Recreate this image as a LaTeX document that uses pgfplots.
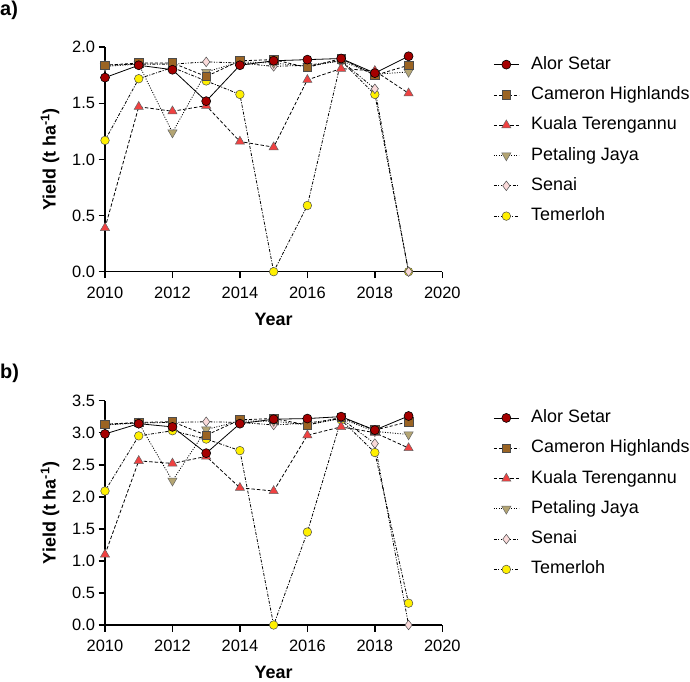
\documentclass[border=0pt]{standalone}
\usepackage{fontspec}
\setmainfont{Liberation Sans}
\usepackage{pgfplots}
\pgfplotsset{compat=1.18}
\definecolor{alor}{RGB}{165,0,0}
\definecolor{cam}{RGB}{155,100,35}
\definecolor{kuala}{RGB}{240,65,65}
\definecolor{pet}{RGB}{180,165,115}
\definecolor{senai}{RGB}{250,218,218}
\definecolor{tem}{RGB}{255,240,0}
\pgfplotsset{
  panel/.style={
    scale only axis, width=337.3bp, height=224.4bp,
    axis lines*=left,
    axis line style={line width=1.6bp},
    tick style={black, line width=1.6bp},
    major tick length=6.5bp,
    tick align=outside,
    clip=false,
    xmin=2010, xmax=2020, xtick={2010,2012,...,2020},
    ymin=0,
    /pgf/number format/assume math mode=true,
    xticklabel style={/pgf/number format/1000 sep={}, yshift=-5bp},
    yticklabel style={/pgf/number format/fixed, /pgf/number format/fixed zerofill, /pgf/number format/precision=1},
    ticklabel style={font=\fontsize{16.5}{19}\selectfont},
    xlabel={Year},
    ylabel={Yield (t ha\textsuperscript{-1})},
    label style={font=\fontsize{18}{21}\selectfont\bfseries},
    xlabel style={at={(axis description cs:0.5,-0.212)}, anchor=center},
    ylabel style={at={(axis description cs:-0.163,0.5)}, anchor=center},
    reverse legend,
    legend cell align=left,
    legend style={draw=none, fill=none, inner sep=0pt, at={(axis description cs:1.151,0.966)}, anchor=north west,
      font=\fontsize{18}{21}\selectfont,
      nodes={inner sep=1bp, text height=13bp, text depth=4bp},
      row sep=11.3bp, column sep=11bp},
    legend image code/.code={\draw[mark repeat=2,mark phase=2,#1] plot coordinates {(0bp,0bp) (12.5bp,0bp) (25bp,0bp)};},
    every axis plot/.append style={line width=0.8bp, black},
  },
  sAlor/.style={solid, mark=*, mark size=4.5bp, mark options={solid, fill=alor, draw=black, line width=0.6bp}},
  sCam/.style={dash pattern=on 3bp off 2bp, mark=square*, mark size=4.3bp, mark options={solid, fill=cam, draw=black!70, line width=0.6bp}},
  sKua/.style={dash pattern=on 3.5bp off 2bp, mark=triangle*, mark size=5.3bp, mark options={solid, fill=kuala, draw=black!60, line width=0.5bp}},
  sPet/.style={dash pattern=on 1bp off 1.5bp, mark=triangle*, mark size=5.3bp, mark options={solid, rotate=180, fill=pet, draw=black!60, line width=0.5bp}},
  sSen/.style={dash pattern=on 3bp off 1.5bp on 1bp off 1.5bp on 1bp off 1.5bp, mark=diamond*, mark size=4.8bp, mark options={solid, fill=senai, draw=black!70, line width=0.5bp}},
  sTem/.style={dash pattern=on 3bp off 1.5bp on 1bp off 1.5bp, mark=*, mark size=4.3bp, mark options={solid, fill=tem, draw=black!70, line width=0.5bp}},
}
\begin{document}
\begin{tikzpicture}
\path[use as bounding box] (0,0) rectangle (690bp,682bp);
\node[anchor=north west, inner sep=0pt, font=\fontsize{20}{24}\selectfont\bfseries] at (0bp,681bp) {a)};
\node[anchor=north west, inner sep=0pt, font=\fontsize{20}{24}\selectfont\bfseries] at (0bp,318bp) {b)};
% Panel a
\begin{axis}[panel, at={(105bp,410.3bp)}, anchor=origin, ymax=2.0, ytick={0,0.5,...,2.0}]
\addplot[sTem] coordinates {(2010,1.17) (2011,1.72) (2012,1.82) (2013,1.70) (2014,1.58) (2015,0.00) (2016,0.59) (2017,1.88) (2018,1.58) (2019,0.00)};
\addlegendentry{Temerloh}
\addplot[sSen] coordinates {(2010,1.84) (2011,1.85) (2012,1.85) (2013,1.87) (2014,1.86) (2015,1.83) (2016,1.84) (2017,1.88) (2018,1.63) (2019,0.00)};
\addlegendentry{Senai}
\addplot[sPet] coordinates {(2010,1.83) (2011,1.85) (2012,1.24) (2013,1.78) (2014,1.87) (2015,1.86) (2016,1.83) (2017,1.88) (2018,1.76) (2019,1.78)};
\addlegendentry{Petaling Jaya}
\addplot[sKua] coordinates {(2010,0.39) (2011,1.47) (2012,1.43) (2013,1.48) (2014,1.16) (2015,1.11) (2016,1.71) (2017,1.81) (2018,1.79) (2019,1.59)};
\addlegendentry{Kuala Terengannu}
\addplot[sCam] coordinates {(2010,1.84) (2011,1.86) (2012,1.86) (2013,1.74) (2014,1.88) (2015,1.89) (2016,1.82) (2017,1.90) (2018,1.75) (2019,1.84)};
\addlegendentry{Cameron Highlands}
\addplot[sAlor] coordinates {(2010,1.73) (2011,1.84) (2012,1.80) (2013,1.52) (2014,1.84) (2015,1.88) (2016,1.89) (2017,1.90) (2018,1.77) (2019,1.92)};
\addlegendentry{Alor Setar}
\end{axis}
% Panel b
\begin{axis}[panel, at={(105bp,57bp)}, anchor=origin, ymax=3.5, ytick={0,0.5,...,3.5}]
\addplot[sTem] coordinates {(2010,2.09) (2011,2.95) (2012,3.03) (2013,2.90) (2014,2.72) (2015,0.00) (2016,1.45) (2017,3.20) (2018,2.69) (2019,0.34)};
\addlegendentry{Temerloh}
\addplot[sSen] coordinates {(2010,3.13) (2011,3.15) (2012,3.16) (2013,3.17) (2014,3.16) (2015,3.12) (2016,3.15) (2017,3.22) (2018,2.83) (2019,0.00)};
\addlegendentry{Senai}
\addplot[sPet] coordinates {(2010,3.12) (2011,3.15) (2012,2.25) (2013,3.05) (2014,3.18) (2015,3.18) (2016,3.12) (2017,3.22) (2018,3.02) (2019,2.97)};
\addlegendentry{Petaling Jaya}
\addplot[sKua] coordinates {(2010,1.10) (2011,2.56) (2012,2.52) (2013,2.63) (2014,2.14) (2015,2.09) (2016,2.96) (2017,3.09) (2018,3.00) (2019,2.76)};
\addlegendentry{Kuala Terengannu}
\addplot[sCam] coordinates {(2010,3.13) (2011,3.16) (2012,3.17) (2013,2.96) (2014,3.20) (2015,3.22) (2016,3.12) (2017,3.24) (2018,3.04) (2019,3.17)};
\addlegendentry{Cameron Highlands}
\addplot[sAlor] coordinates {(2010,2.98) (2011,3.14) (2012,3.09) (2013,2.68) (2014,3.14) (2015,3.21) (2016,3.22) (2017,3.25) (2018,3.04) (2019,3.26)};
\addlegendentry{Alor Setar}
\end{axis}
\end{tikzpicture}
\end{document}
